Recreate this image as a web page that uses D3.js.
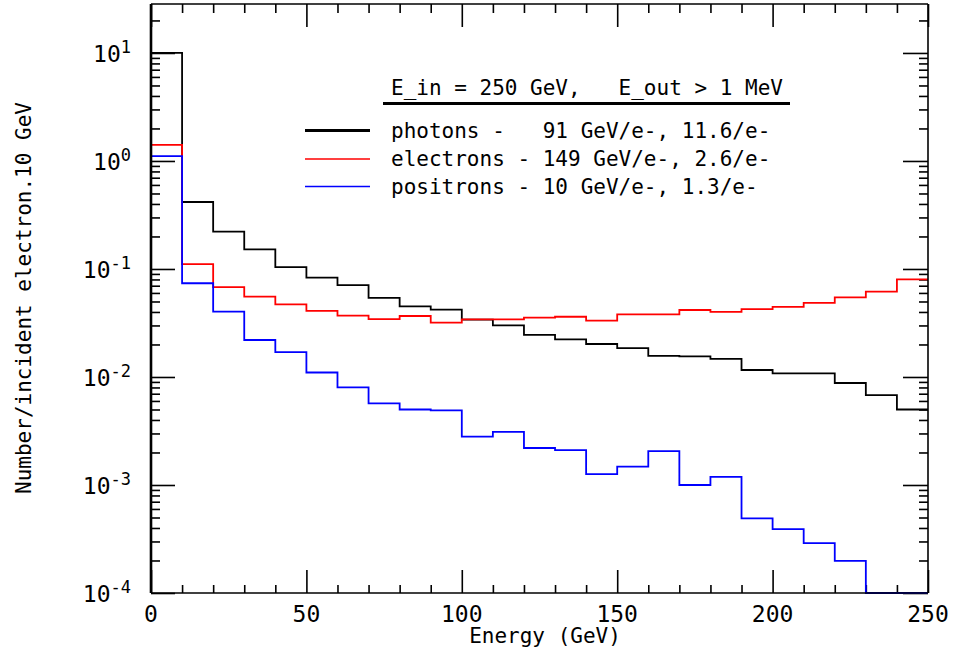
<!DOCTYPE html>
<html>
<head>
<meta charset="utf-8">
<script src="https://d3js.org/d3.v7.min.js"></script>
<title>Energy spectrum</title>
<style>
  body { margin: 0; background: #fff; }
  text { font-family: "DejaVu Sans Mono", monospace; fill: #000; }
</style>
</head>
<body>
<svg width="954" height="660"></svg>
<script>
// bin edges in GeV
const binEdges = [0, 10, 20, 30, 40, 50, 60, 70, 80, 90, 100, 110, 120, 130, 140, 150,
                  160, 170, 180, 190, 200, 210, 220, 230, 240, 250];

// number / incident electron . 10 GeV, one value per bin
const photons = [10, 0.417, 0.222, 0.152, 0.104, 0.083, 0.071, 0.054, 0.045, 0.042,
                 0.034, 0.030, 0.0245, 0.0223, 0.0202, 0.0185, 0.0157, 0.0155, 0.0147, 0.0116,
                 0.0108, 0.0108, 0.0088, 0.0068, 0.0050];
const electrons = [1.41, 0.111, 0.068, 0.0555, 0.047, 0.041, 0.037, 0.0344, 0.0367, 0.0318,
                   0.0342, 0.0342, 0.0354, 0.0361, 0.0332, 0.038, 0.038, 0.0417, 0.040, 0.0424,
                   0.0445, 0.0485, 0.0547, 0.0617, 0.080];
const positrons = [1.11, 0.0738, 0.0403, 0.0220, 0.0170, 0.0110, 0.0080, 0.0057, 0.0050, 0.0049,
                   0.0028, 0.0031, 0.0022, 0.0021, 0.00126, 0.00148, 0.00206, 0.0010, 0.00119, 0.00049,
                   0.00039, 0.00029, 0.000198, 0, 0];

const xTickLabels = [0, 50, 100, 150, 200, 250];
const yDecades = [1e-4, 1e-3, 1e-2, 1e-1, 1, 10];
const yExponents = ["-4", "-3", "-2", "-1", "0", "1"];

const legendTitle = "E_in = 250 GeV,   E_out > 1 MeV";
const legendNames = ["photons -   91 GeV/e-, 11.6/e-",
                     "electrons - 149 GeV/e-, 2.6/e-",
                     "positrons - 10 GeV/e-, 1.3/e-"];
const seriesColors = ["#000000", "#ff0000", "#0000ff"];

var svg = d3.select("svg");
var plotLeft = 151, plotRight = 928, plotTop = 4, plotBottom = 593;
var yMin = 1e-4, yMax = 28.4;

var x = d3.scaleLinear().domain([0, 250]).range([plotLeft, plotRight]);
var y = d3.scaleLog().domain([yMin, yMax]).range([plotBottom, plotTop]);

// minor ticks: 2..9 of every decade (up to 20 at the top)
var minorY = [];
yDecades.forEach(function(d) {
  for (var k = 2; k <= 9; k++) if (d * k < yMax) minorY.push(d * k);
});
var minorX = binEdges.filter(function(d) { return d % 50 != 0; });

function tickAxis(axisFn, scale, vals, size, transform) {
  svg.append("g")
    .attr("transform", transform)
    .call(axisFn(scale).tickValues(vals).tickSize(size).tickFormat(""))
    .call(function(g) {
      g.select(".domain").remove();
      g.selectAll("line").attr("stroke", "#000").attr("stroke-width", 1.6);
    });
}

tickAxis(d3.axisBottom, x, minorX, -8, "translate(0," + plotBottom + ")");
tickAxis(d3.axisBottom, x, xTickLabels, -23, "translate(0," + plotBottom + ")");
tickAxis(d3.axisTop, x, minorX, -9, "translate(0," + plotTop + ")");
tickAxis(d3.axisTop, x, xTickLabels, -23, "translate(0," + plotTop + ")");
tickAxis(d3.axisLeft, y, minorY, -9, "translate(" + plotLeft + ",0)");
tickAxis(d3.axisLeft, y, yDecades, -24, "translate(" + plotLeft + ",0)");
tickAxis(d3.axisRight, y, minorY, -9, "translate(" + plotRight + ",0)");
tickAxis(d3.axisRight, y, yDecades, -25, "translate(" + plotRight + ",0)");

// histograms
var line = d3.line()
  .x(function(d) { return x(d[0]); })
  .y(function(d) { return y(Math.max(d[1], yMin)); })
  .curve(d3.curveStepAfter);

[photons, electrons, positrons].forEach(function(vals, i) {
  var pts = vals.map(function(v, j) { return [binEdges[j], v]; });
  pts.push([binEdges[binEdges.length - 1], vals[vals.length - 1]]);
  svg.append("path")
    .attr("d", line(pts))
    .attr("fill", "none")
    .attr("stroke", seriesColors[i])
    .attr("stroke-width", 1.8);
});

// frame
svg.append("line").attr("x1", plotLeft).attr("x2", plotLeft).attr("y1", plotTop).attr("y2", plotBottom)
  .attr("stroke", "#000").attr("stroke-width", 2.6);
svg.append("line").attr("x1", plotRight).attr("x2", plotRight).attr("y1", plotTop).attr("y2", plotBottom)
  .attr("stroke", "#000").attr("stroke-width", 1.6);
svg.append("line").attr("x1", plotLeft).attr("x2", plotRight).attr("y1", plotTop).attr("y2", plotTop)
  .attr("stroke", "#000").attr("stroke-width", 1.6);
svg.append("line").attr("x1", plotLeft).attr("x2", plotRight).attr("y1", plotBottom).attr("y2", plotBottom)
  .attr("stroke", "#000").attr("stroke-width", 1.6);

// x tick labels
svg.selectAll(".xlab").data(xTickLabels).enter().append("text")
  .attr("x", function(d) { return x(d); })
  .attr("y", 622)
  .attr("text-anchor", "middle")
  .attr("font-size", "23px")
  .text(function(d) { return d; });

// y tick labels with superscripts
var ylab = svg.selectAll(".ylab").data(yDecades).enter().append("text")
  .attr("x", 131)
  .attr("y", function(d) { return y(d) + 9; })
  .attr("text-anchor", "end")
  .attr("font-size", "23px");
ylab.append("tspan").text("10");
ylab.append("tspan")
  .attr("dy", -9)
  .attr("font-size", "17px")
  .text(function(d, i) { return yExponents[i]; });

// axis titles
svg.append("text")
  .attr("x", 545).attr("y", 643)
  .attr("text-anchor", "middle")
  .attr("font-size", "21px")
  .text("Energy (GeV)");
svg.append("text")
  .attr("transform", "translate(31,298) rotate(-90)")
  .attr("text-anchor", "middle")
  .attr("font-size", "21px")
  .text("Number/incident electron.10 GeV");

// legend
svg.append("text")
  .attr("x", 391).attr("y", 95)
  .attr("font-size", "21px")
  .style("white-space", "pre")
  .text(legendTitle);
svg.append("line")
  .attr("x1", 383).attr("x2", 790).attr("y1", 103.5).attr("y2", 103.5)
  .attr("stroke", "#000").attr("stroke-width", 2.8);

var rowY = [137.5, 166, 193.5];
legendNames.forEach(function(name, i) {
  svg.append("line")
    .attr("x1", 305).attr("x2", 370)
    .attr("y1", rowY[i] - 7).attr("y2", rowY[i] - 7)
    .attr("stroke", seriesColors[i])
    .attr("stroke-width", i == 0 ? 3 : 1.6);
  svg.append("text")
    .attr("x", 391).attr("y", rowY[i])
    .attr("font-size", "21px")
    .style("white-space", "pre")
    .text(name);
});
</script>
</body>
</html>
